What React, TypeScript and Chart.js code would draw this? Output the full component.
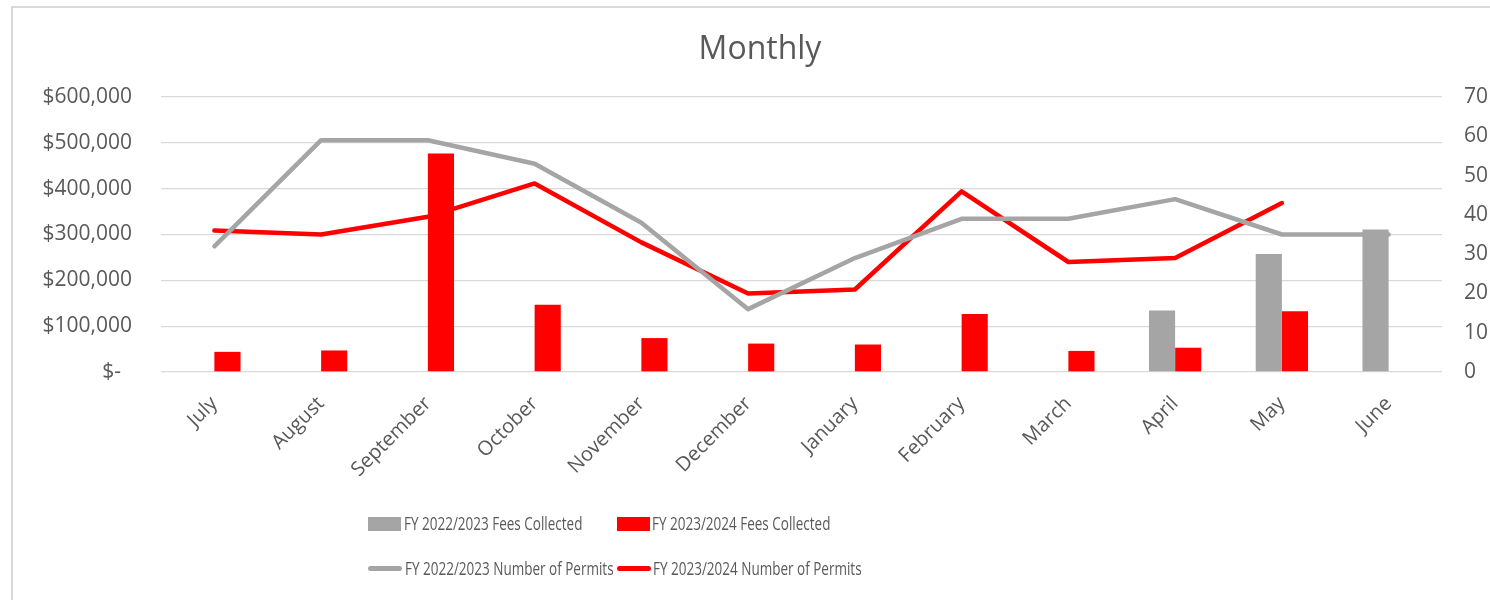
import React, { useEffect, useRef } from "react";
import { Chart, registerables } from "chart.js";

Chart.register(...registerables);

const months = ["July", "August", "September", "October", "November", "December", "January", "February", "March", "April", "May", "June"];
const fees2223: (number | null)[] = [null, null, null, null, null, null, null, null, null, 134000, 257500, 310700];
const fees2324: (number | null)[] = [44000, 47000, 477000, 147000, 74000, 62000, 60000, 126500, 46000, 53000, 132500, null];
const permits2223: (number | null)[] = [32, 59, 59, 53, 38, 16, 29, 39, 39, 44, 35, 35];
const permits2324: (number | null)[] = [36, 35, 39.5, 48, 33, 20, 21, 46, 28, 29, 43, null];

const seriesNames = [
  "FY 2022/2023 Fees Collected",
  "FY 2023/2024 Fees Collected",
  "FY 2022/2023 Number of Permits",
  "FY 2023/2024 Number of Permits",
];

const GRAY = "#a5a5a5";
const RED = "#ff0000";
const TEXT = "#595959";
const FONT = "'Open Sans', 'Noto Sans', sans-serif";

export default function App() {
  const ref = useRef<HTMLCanvasElement | null>(null);

  useEffect(() => {
    if (!ref.current) return;
    const chart = new Chart(ref.current, {
      type: "bar",
      data: {
        labels: months,
        datasets: [
          {
            type: "line",
            label: seriesNames[2],
            data: permits2223,
            borderColor: GRAY,
            backgroundColor: GRAY,
            borderWidth: 4.5,
            pointRadius: 0,
            tension: 0,
            yAxisID: "y1",
            borderCapStyle: "round",
            borderJoinStyle: "round",
            order: 1,
          } as any,
          {
            type: "line",
            label: seriesNames[3],
            data: permits2324,
            borderColor: RED,
            backgroundColor: RED,
            borderWidth: 4.5,
            pointRadius: 0,
            tension: 0,
            yAxisID: "y1",
            borderCapStyle: "round",
            borderJoinStyle: "round",
            order: 1,
          } as any,
          {
            type: "bar",
            label: seriesNames[0],
            data: fees2223,
            backgroundColor: GRAY,
            borderWidth: 0,
            yAxisID: "y",
            categoryPercentage: 0.49,
            barPercentage: 1,
            order: 2,
          } as any,
          {
            type: "bar",
            label: seriesNames[1],
            data: fees2324,
            backgroundColor: RED,
            borderWidth: 0,
            yAxisID: "y",
            categoryPercentage: 0.49,
            barPercentage: 1,
            order: 2,
          } as any,
        ],
      },
      options: {
        responsive: false,
        animation: false,
        layout: { padding: { left: 30, right: 0, top: 0, bottom: 0 } },
        plugins: {
          legend: { display: false },
          tooltip: { enabled: false },
          title: {
            display: true,
            text: "Monthly",
            color: TEXT,
            font: { family: FONT, size: 32, weight: "normal" as any, lineHeight: 1.2 },
            padding: { top: 31, bottom: 27.6 },
          },
        },
        scales: {
          x: {
            grid: { display: false, drawTicks: false },
            border: { display: false },
            ticks: {
              color: TEXT,
              font: { family: FONT, size: 20 },
              maxRotation: 45,
              minRotation: 45,
              autoSkip: false,
              padding: 20,
            },
            afterFit: (s: any) => {
              s.height = 228;
            },
          },
          y: {
            position: "left",
            min: 0,
            max: 600000,
            grid: { color: "#d9d9d9", lineWidth: 1.3, drawTicks: false },
            border: { display: false },
            ticks: {
              stepSize: 100000,
              color: TEXT,
              font: { family: FONT, size: 21 },
              padding: 29,
              callback: (v: any) => (Number(v) === 0 ? "$-  " : "$" + Number(v).toLocaleString("en-US")),
            },
            afterFit: (s: any) => {
              s.width = 131;
            },
          },
          y1: {
            position: "right",
            min: 0,
            max: 70,
            grid: { display: false, drawTicks: false },
            border: { display: false },
            ticks: {
              stepSize: 10,
              color: TEXT,
              font: { family: FONT, size: 21 },
              padding: 22,
            },
            afterFit: (s: any) => {
              s.width = 48;
            },
          },
        },
      },
    });
    return () => chart.destroy();
  }, []);

  const legendText: React.CSSProperties = {
    position: "absolute",
    fontFamily: FONT,
    fontSize: 18,
    lineHeight: "18px",
    color: TEXT,
    whiteSpace: "nowrap",
    transform: "scaleX(0.75)",
    transformOrigin: "left center",
  };

  return (
    <div style={{ position: "absolute", left: 0, top: 0, width: 1490, height: 600, overflow: "hidden", background: "#fff" }}>
      <div
        style={{
          position: "absolute",
          left: 11,
          top: 6,
          width: 1600,
          height: 700,
          borderTop: "2px solid #d9d9d9",
          borderLeft: "2px solid #d9d9d9",
        }}
      />
      <canvas ref={ref} width={1490} height={600} style={{ position: "absolute", left: 0, top: 0 }} />
      {/* legend */}
      <div style={{ position: "absolute", left: 368, top: 517, width: 33, height: 14, background: GRAY }} />
      <div style={{ ...legendText, left: 404, top: 513.5 }}>{seriesNames[0]}</div>
      <div style={{ position: "absolute", left: 617, top: 517, width: 33, height: 14, background: RED }} />
      <div style={{ ...legendText, left: 652, top: 513.5 }}>{seriesNames[1]}</div>
      <div style={{ position: "absolute", left: 368, top: 565.5, width: 34, height: 5, borderRadius: 2.5, background: GRAY }} />
      <div style={{ ...legendText, left: 405, top: 558.5 }}>{seriesNames[2]}</div>
      <div style={{ position: "absolute", left: 617, top: 565.5, width: 34, height: 5, borderRadius: 2.5, background: RED }} />
      <div style={{ ...legendText, left: 653, top: 558.5 }}>{seriesNames[3]}</div>
    </div>
  );
}
